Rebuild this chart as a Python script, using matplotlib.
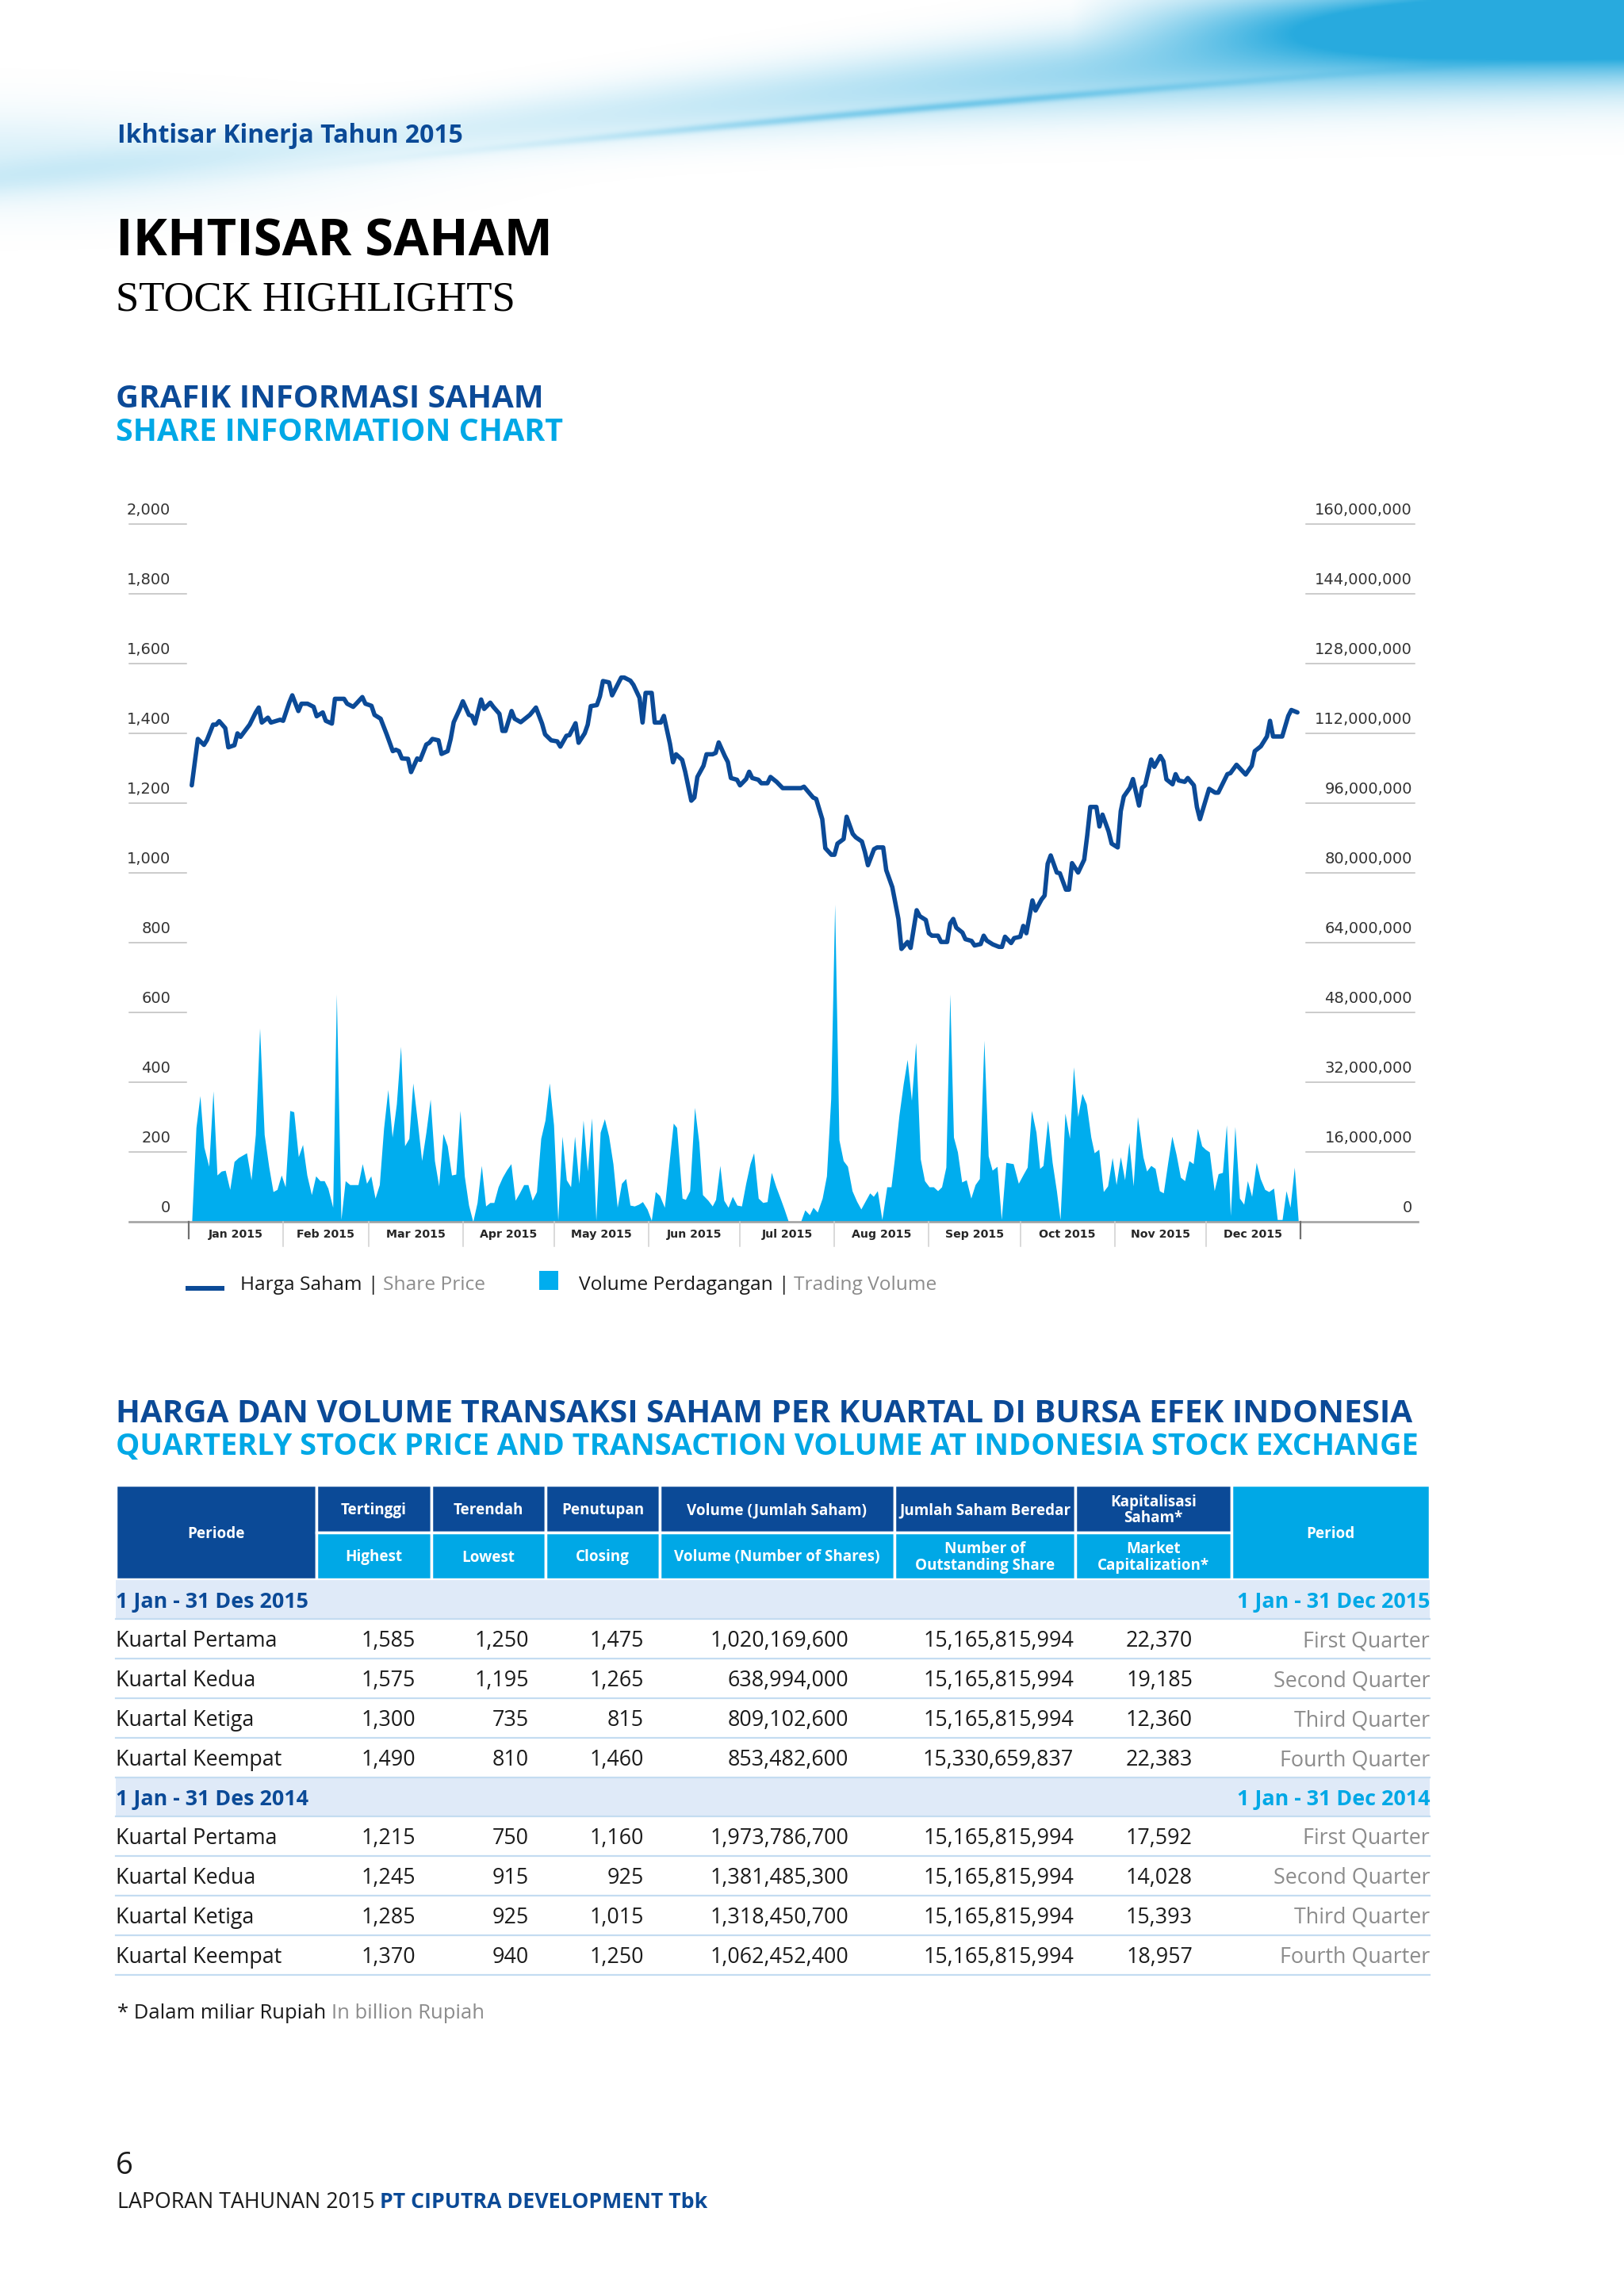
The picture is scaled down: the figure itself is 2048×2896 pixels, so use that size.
import numpy as np
import pandas as pd
import matplotlib
matplotlib.use('Agg')
import matplotlib.pyplot as plt
from matplotlib import font_manager
from matplotlib.patches import Rectangle

# ---- share price (Rp), day of year 2015 ----
price_day = [1, 3, 5, 6, 8, 9, 10, 12, 13, 15,
             16, 17, 20, 22, 23, 24, 26, 27, 30, 31,
             33, 34, 36, 37, 39, 41, 42, 44, 45, 47,
             48, 51, 52, 54, 55, 57, 58, 60, 61, 63,
             65, 67, 68, 69, 70, 72, 73, 75, 76, 78,
             79, 80, 82, 83, 85, 86, 87, 89, 90, 92,
             93, 94, 96, 97, 99, 100, 102, 103, 104, 106,
             107, 109, 111, 112, 114, 116, 117, 119, 121, 122,
             124, 125, 127, 128, 130, 131, 132, 134, 135, 136,
             138, 139, 142, 143, 145, 146, 148, 149, 150, 152,
             153, 155, 156, 158, 159, 160, 162, 163, 165, 166,
             167, 169, 170, 172, 173, 174, 176, 177, 178, 180,
             181, 183, 184, 185, 187, 188, 190, 191, 193, 195,
             201, 202, 205, 206, 208, 209, 211, 212, 213, 215,
             216, 218, 219, 221, 222, 223, 225, 226, 228, 229,
             231, 233, 234, 236, 237, 239, 240, 242, 243, 244,
             246, 247, 249, 250, 251, 252, 254, 255, 257, 258,
             260, 261, 262, 264, 266, 267, 268, 270, 271, 273,
             274, 275, 277, 278, 280, 281, 282, 283, 285, 286,
             288, 289, 290, 292, 294, 295, 296, 298, 299, 300,
             302, 303, 305, 306, 307, 309, 310, 312, 313, 314,
             316, 317, 319, 320, 321, 323, 324, 325, 327, 328,
             330, 331, 332, 335, 337, 338, 341, 342, 344, 347,
             349, 350, 352, 354, 355, 356, 359, 361, 362, 364]
price = [1251, 1384, 1367, 1381, 1425, 1425, 1435, 1415, 1360, 1366,
         1400, 1390, 1425, 1460, 1474, 1431, 1445, 1431, 1439, 1436,
         1488, 1509, 1464, 1485, 1485, 1476, 1449, 1460, 1436, 1428,
         1499, 1499, 1485, 1476, 1485, 1504, 1485, 1479, 1453, 1442,
         1397, 1349, 1353, 1349, 1328, 1327, 1289, 1328, 1324, 1368,
         1373, 1384, 1380, 1341, 1349, 1384, 1432, 1470, 1492, 1453,
         1450, 1428, 1497, 1470, 1488, 1476, 1456, 1407, 1407, 1464,
         1442, 1432, 1446, 1453, 1474, 1428, 1397, 1380, 1377, 1362,
         1393, 1395, 1429, 1373, 1400, 1425, 1478, 1481, 1506, 1550,
         1546, 1509, 1560, 1560, 1551, 1539, 1502, 1431, 1516, 1516,
         1431, 1431, 1450, 1370, 1317, 1340, 1324, 1290, 1207, 1216,
         1275, 1307, 1340, 1340, 1344, 1374, 1335, 1318, 1272, 1267,
         1251, 1269, 1290, 1272, 1267, 1257, 1257, 1275, 1261, 1243,
         1243, 1247, 1216, 1212, 1154, 1071, 1052, 1052, 1084, 1097,
         1161, 1112, 1102, 1090, 1060, 1022, 1068, 1073, 1073, 1008,
         959, 868, 782, 802, 785, 893, 876, 865, 827, 820,
         820, 802, 802, 855, 868, 843, 829, 810, 805, 792,
         796, 820, 806, 795, 788, 788, 817, 799, 813, 817,
         848, 827, 921, 892, 924, 935, 1026, 1050, 1001, 999,
         952, 952, 1028, 1001, 1038, 1108, 1189, 1189, 1133, 1167,
         1119, 1084, 1073, 1177, 1219, 1244, 1269, 1193, 1244, 1251,
         1325, 1304, 1335, 1320, 1268, 1254, 1283, 1265, 1261, 1272,
         1251, 1189, 1154, 1241, 1230, 1230, 1283, 1286, 1310, 1282,
         1307, 1349, 1363, 1391, 1436, 1391, 1391, 1450, 1467, 1460]

# ---- trading volume (million shares) ----
vol_day = [1.0, 2.4, 3.7, 5.0, 6.6, 8.0, 9.3, 10.7, 12.0, 13.5,
           14.9, 16.3, 19.0, 20.5, 21.9, 23.3, 24.8, 26.3, 27.7, 29.0,
           30.4, 31.7, 33.2, 34.5, 36.0, 37.4, 38.8, 40.3, 41.7, 43.1,
           44.5, 45.7, 47.3, 48.5, 50.0, 51.4, 52.9, 55.6, 57.0, 58.4,
           59.8, 61.2, 62.6, 64.0, 65.4, 66.8, 68.2, 69.6, 70.9, 72.3,
           73.6, 75.1, 76.5, 77.9, 79.3, 80.7, 82.1, 83.5, 84.9, 86.3,
           87.7, 89.1, 90.5, 91.9, 93.3, 94.7, 96.1, 97.5, 98.9, 100.2,
           101.6, 103.0, 104.4, 105.8, 107.2, 108.6, 110.0, 111.4, 112.8, 114.2,
           115.6, 117.0, 118.4, 119.8, 121.2, 122.6, 124.0, 125.4, 126.7, 128.1,
           129.5, 130.9, 132.3, 133.7, 135.1, 136.5, 137.9, 139.3, 140.7, 142.1,
           143.5, 144.9, 146.3, 147.7, 149.0, 150.5, 151.9, 153.2, 154.6, 156.2,
           157.6, 159.1, 160.2, 162.0, 163.1, 164.5, 166.1, 167.5, 168.7, 170.5,
           171.9, 173.0, 174.4, 175.7, 177.1, 178.5, 180.0, 181.5, 182.9, 184.3,
           185.5, 187.0, 188.5, 189.9, 191.3, 192.8, 194.2, 195.5, 196.9, 200.9,
           202.3, 203.8, 205.0, 206.4, 208.0, 209.4, 210.8, 212.1, 213.5, 214.9,
           216.3, 217.8, 219.3, 220.7, 222.1, 223.6, 224.8, 226.1, 227.6, 229.2,
           230.6, 231.7, 233.2, 234.6, 235.9, 237.3, 238.7, 240.2, 241.6, 243.1,
           244.5, 245.9, 247.2, 248.6, 249.9, 251.1, 252.4, 253.8, 255.3, 256.8,
           258.2, 259.6, 261.1, 262.5, 263.8, 265.4, 266.8, 268.3, 270.7, 272.4,
           274.1, 275.3, 276.7, 278.2, 279.4, 280.5, 282.0, 283.5, 284.9, 286.1,
           287.7, 289.2, 290.5, 291.9, 293.3, 294.7, 296.2, 297.3, 298.8, 300.3,
           301.7, 303.2, 304.5, 305.9, 307.3, 308.7, 310.1, 311.5, 313.3, 314.5,
           315.9, 317.3, 318.7, 320.0, 321.5, 322.8, 324.2, 325.6, 327.0, 328.4,
           329.8, 331.2, 332.6, 333.8, 335.1, 336.7, 338.0, 339.4, 340.7, 342.0,
           343.5, 345.0, 346.4, 347.6, 349.0, 350.5, 351.8, 353.3, 354.6, 356.2,
           357.4, 359.0, 360.3, 361.6, 363.0, 364.3]
vol_m = [0, 21.6, 28.9, 17.1, 12.7, 30.0, 10.7, 11.6, 11.8, 7.4,
         13.8, 14.7, 15.8, 9.6, 20.0, 44.4, 20.0, 12.6, 6.9, 7.4,
         10.7, 8.0, 25.5, 25.2, 14.9, 17.7, 10.7, 6.2, 10.5, 9.4,
         9.4, 7.7, 3.3, 52.2, 0.5, 9.4, 8.5, 8.5, 13.3, 8.8,
         10.5, 5.4, 8.5, 21.4, 30.3, 19.4, 27.0, 40.2, 17.4, 19.1,
         31.8, 22.9, 14.0, 20.5, 28.1, 14.0, 8.2, 20.2, 17.4, 10.7,
         10.9, 25.5, 10.5, 3.8, 0, 4.4, 12.9, 3.6, 4.4, 4.4,
         8.0, 10.2, 11.9, 13.3, 4.9, 6.6, 8.5, 8.5, 4.9, 6.9,
         19.1, 23.3, 31.8, 22.2, 0.3, 19.6, 9.6, 8.0, 19.6, 8.8,
         23.3, 11.6, 23.8, 0.3, 20.5, 23.6, 19.6, 13.3, 3.3, 8.8,
         9.9, 3.8, 3.6, 4.0, 4.6, 2.9, 0.3, 6.9, 6.0, 3.3,
         12.7, 22.6, 21.6, 5.4, 5.1, 7.1, 26.2, 18.2, 6.2, 4.9,
         3.6, 5.1, 12.9, 4.9, 3.3, 5.8, 3.8, 3.6, 8.8, 13.3,
         15.8, 5.4, 4.4, 4.6, 11.3, 8.0, 5.4, 2.9, 0, 0,
         2.7, 1.6, 3.3, 2.2, 5.4, 10.5, 28.2, 72.8, 18.8, 14.0,
         12.7, 7.1, 4.7, 2.9, 4.7, 6.6, 5.8, 7.1, 0.5, 8.0,
         8.0, 14.4, 24.4, 31.6, 37.2, 27.8, 41.1, 14.4, 9.4, 8.0,
         8.0, 7.1, 8.0, 12.5, 52.2, 19.4, 16.0, 9.1, 9.6, 5.4,
         8.5, 9.9, 41.6, 15.1, 11.8, 12.7, 0.5, 13.6, 13.3, 8.8,
         11.0, 12.5, 25.5, 20.5, 12.2, 12.9, 23.3, 13.6, 7.1, 0.5,
         24.9, 19.1, 35.5, 24.1, 29.4, 27.0, 19.4, 15.8, 16.6, 6.9,
         8.2, 14.7, 8.5, 14.9, 9.6, 18.2, 8.2, 24.1, 14.9, 11.6,
         12.9, 12.2, 7.1, 6.6, 13.8, 19.6, 15.4, 10.2, 9.4, 14.0,
         13.3, 21.4, 17.4, 16.6, 16.0, 7.1, 11.0, 11.3, 22.2, 1.4,
         21.8, 5.4, 4.0, 9.4, 5.8, 13.6, 9.9, 7.4, 6.9, 7.7,
         0.5, 0.5, 7.1, 3.3, 12.5, 0]

# ---- quarterly table ----
periods_id = ['1 Jan - 31 Des 2015', '1 Jan - 31 Des 2014']
periods_en = ['1 Jan - 31 Dec 2015', '1 Jan - 31 Dec 2014']
quarters_id = ['Kuartal Pertama', 'Kuartal Kedua', 'Kuartal Ketiga', 'Kuartal Keempat']
quarters_en = ['First Quarter', 'Second Quarter', 'Third Quarter', 'Fourth Quarter']
highest = [[1585, 1575, 1300, 1490], [1215, 1245, 1285, 1370]]
lowest = [[1250, 1195, 735, 810], [750, 915, 925, 940]]
closing = [[1475, 1265, 815, 1460], [1160, 925, 1015, 1250]]
volume = [[1020169600, 638994000, 809102600, 853482600],
          [1973786700, 1381485300, 1318450700, 1062452400]]
outstanding = [[15165815994, 15165815994, 15165815994, 15330659837],
               [15165815994, 15165815994, 15165815994, 15165815994]]
market_cap = [[22370, 19185, 12360, 22383], [17592, 14028, 15393, 18957]]
head_id = ['Tertinggi', 'Terendah', 'Penutupan', 'Volume (Jumlah Saham)',
           'Jumlah Saham Beredar', 'Kapitalisasi\nSaham*']
head_en = ['Highest', 'Lowest', 'Closing', 'Volume (Number of Shares)',
           'Number of\nOutstanding Share', 'Market\nCapitalization*']

DARK = '#0b4a97'
CYAN = '#00a8e6'
VOLC = '#00adee'
GRAY = '#8c8c8c'
INK = '#1a1a1a'
BAND = '#dfeaf8'
RULE = '#c4dcf1'

names = {f.name for f in font_manager.fontManager.ttflist}
cond = 'Liberation Sans Narrow' if 'Liberation Sans Narrow' in names else 'Open Sans'
serif = 'Liberation Serif' if 'Liberation Serif' in names else 'DejaVu Serif'

fig = plt.figure(figsize=(20.48, 28.96), dpi=100)
page = fig.add_axes([0, 0, 1, 1])
page.axis('off')
r = fig.canvas.get_renderer()


def size_for(s, width, **kw):
    t = page.text(0, 0, s, fontsize=20, **kw)
    w = t.get_window_extent(renderer=r).width
    t.remove()
    return 20 * width / w


def put(x, y, s, width, **kw):
    return page.text(x, y + 4, s, fontsize=size_for(s, width, **kw), va='center', **kw)


def chain(x, y, parts, size, family=cond):
    gap = size * 100 / 72 * 0.26
    for s, c, w in parts:
        t = page.text(x, y, s, fontsize=size, color=c, fontweight=w,
                      family=family, va='center')
        x += t.get_window_extent(renderer=r).width + gap


# header swoosh (decoration)
H = 360
yy, xx = np.mgrid[0:H:2, 0:2048:2].astype(float)
t = xx / 2048
yc = 225 - 0.115 * xx + 0.000012 * xx ** 2
a = (0.10 + 0.75 * t ** 2) * np.exp(-((yy - yc) / (22 + 45 * t)) ** 2)
a += 0.35 * np.exp(-((yy - (yc + 28)) / 5) ** 2) * np.exp(-((xx - 1150) / 420) ** 2)
a += 0.85 * np.exp(-((yy - 25) / 45) ** 2) * np.clip((xx - 1350) / 450, 0, 1)
a += 0.15 * np.exp(-((yy - 200) / 60) ** 2) * np.exp(-(xx / 380) ** 2)
img = np.zeros(yy.shape + (4,))
img[..., 0], img[..., 1], img[..., 2] = 0.08, 0.64, 0.86
img[..., 3] = np.clip(a, 0, 0.92)
page.imshow(img, extent=(0, 2048, H, 0), aspect='auto', zorder=0, interpolation='bilinear')
page.set_xlim(0, 2048)
page.set_ylim(2896, 0)

# page titles
put(148, 168, 'Ikhtisar Kinerja Tahun 2015', 436, family=cond, fontweight='bold', color=DARK)
put(146, 302, 'IKHTISAR SAHAM', 550, family=cond, fontweight='bold', color='black')
put(146, 374, 'STOCK HIGHLIGHTS', 504, family=serif, color='black')
put(146, 500, 'GRAFIK INFORMASI SAHAM', 539, family=cond, fontweight='bold', color=DARK)
put(146, 541, 'SHARE INFORMATION CHART', 565, family=cond, fontweight='bold', color=CYAN)

# ---- chart ----
ax = fig.add_axes([238 / 2048, 1355 / 2896, 1402 / 2048, 880 / 2896])
ax2 = ax.twinx()
start = pd.Timestamp('2015-01-01')
px = start + pd.to_timedelta(price_day, unit='D')
vx = start + pd.to_timedelta(vol_day, unit='D')
ax2.fill_between(vx, np.array(vol_m) * 1e6, 0, color=VOLC, lw=0)
ax.plot(px, price, color=DARK, lw=4.0, solid_joinstyle='round', solid_capstyle='round')
ax.set_zorder(ax2.get_zorder() + 1)
ax.patch.set_visible(False)
ax.set_xlim(start, pd.Timestamp('2016-01-01'))
ax.set_ylim(0, 2000)
ax2.set_ylim(0, 160e6)
for a_ in (ax, ax2):
    a_.set_xticks([])
    a_.set_yticks([])
    for s in a_.spines.values():
        s.set_visible(False)

tick_fs = size_for('2,000', 56, family='DejaVu Sans')
trl = ax.get_yaxis_transform()
for v in np.arange(0, 2001, 200):
    if v > 0:
        ax.plot([-0.0535, -0.002], [v, v], transform=trl, color='#bdbdbd', lw=1.1, clip_on=False)
    ax.text(-0.0164, v + 39, f'{v:,}', transform=trl, ha='right', va='center',
            fontsize=tick_fs, color='#333333', family='DejaVu Sans')
trr = ax2.get_yaxis_transform()
for v in np.arange(0, 160e6 + 1, 16e6):
    if v > 0:
        ax2.plot([1.005, 1.1027], [v, v], transform=trr, color='#bdbdbd', lw=1.1, clip_on=False)
    ax2.text(1.1006, v + 39 * 80000, f'{int(v):,}', transform=trr, ha='right', va='center',
             fontsize=tick_fs, color='#333333', family='DejaVu Sans')

ax.plot([-0.0535, 1.1056], [0, 0], transform=ax.transAxes, color='#a3a3a3', lw=1.9, clip_on=False)
months = pd.date_range('2015-01-01', '2016-01-01', freq='MS')
trx = ax.get_xaxis_transform()
for i, d in enumerate(months):
    end = i in (0, len(months) - 1)
    ax.plot([d, d], [0, -0.024 if end else -0.035], transform=trx, clip_on=False,
            color='#707070' if end else '#d0d0d0', lw=1.6 if end else 1.1)
mon_fs = size_for('Jan 2015', 69, family='DejaVu Sans', fontweight='bold')
for d0, d1 in zip(months[:-1], months[1:]):
    ax.text(d0 + (d1 - d0) / 2, -0.018, d0.strftime('%b %Y'), transform=trx, ha='center',
            va='center', fontsize=mon_fs, fontweight='bold', color='#262626', family='DejaVu Sans')

# legend
page.plot([234, 283], [1625, 1625], color=DARK, lw=4.3, solid_capstyle='butt')
page.add_patch(Rectangle((680, 1603), 24, 24, fc=VOLC, lw=0))
leg_fs = size_for('Harga Saham | Share Price', 307, family=cond)
chain(303, 1621, [('Harga Saham', INK, 'normal'), ('|', INK, 'normal'),
                  ('Share Price', GRAY, 'normal')], leg_fs)
chain(730, 1621, [('Volume Perdagangan', INK, 'normal'), ('|', INK, 'normal'),
                  ('Trading Volume', GRAY, 'normal')], leg_fs)

# ---- table ----
put(146, 1779, 'HARGA DAN VOLUME TRANSAKSI SAHAM PER KUARTAL DI BURSA EFEK INDONESIA', 1634,
    family=cond, fontweight='bold', color=DARK)
put(146, 1821, 'QUARTERLY STOCK PRICE AND TRANSACTION VOLUME AT INDONESIA STOCK EXCHANGE', 1645,
    family=cond, fontweight='bold', color=CYAN)

cols = [146, 399, 544, 688, 832, 1128, 1356, 1553, 1803]
top, mid, bot = 1873, 1933, 1992
head_fs = size_for('Volume (Jumlah Saham)', 226, family=cond, fontweight='bold')
hk = dict(ha='center', va='center', color='white', fontweight='bold', family=cond,
          fontsize=head_fs, linespacing=1.05)
page.add_patch(Rectangle((cols[0], top), cols[1] - cols[0], bot - top, fc=DARK, ec='white', lw=2.5))
page.text((cols[0] + cols[1]) / 2, (top + bot) / 2 + 2, 'Periode', **hk)
for i in range(1, 7):
    w = cols[i + 1] - cols[i]
    page.add_patch(Rectangle((cols[i], top), w, mid - top, fc=DARK, ec='white', lw=2.5))
    page.add_patch(Rectangle((cols[i], mid), w, bot - mid, fc=CYAN, ec='white', lw=2.5))
    page.text(cols[i] + w / 2, (top + mid) / 2 + 2, head_id[i - 1], **hk)
    page.text(cols[i] + w / 2, (mid + bot) / 2 + 2, head_en[i - 1], **hk)
page.add_patch(Rectangle((cols[7], top), cols[8] - cols[7], bot - top, fc=CYAN, ec='white', lw=2.5))
page.text((cols[7] + cols[8]) / 2, (top + bot) / 2 + 2, 'Period', **hk)

body_fs = size_for('1,020,169,600', 175, family=cond)
band_fs = size_for(periods_id[0], 243, family=cond, fontweight='bold')
right = [524, 667, 812, 1070, 1354, 1504]
y = bot + 1
for k in range(2):
    page.add_patch(Rectangle((146, y), 1657, 49, fc=BAND, lw=0))
    page.text(146, y + 28, periods_id[k], fontsize=band_fs, fontweight='bold', color=DARK,
              family=cond, va='center')
    page.text(1803, y + 28, periods_en[k], fontsize=band_fs, fontweight='bold', color=CYAN,
              family=cond, va='center', ha='right')
    y += 49
    page.plot([146, 1803], [y, y], color=RULE, lw=1.6)
    for q in range(4):
        yc_ = y + 28
        page.text(146, yc_, quarters_id[q], fontsize=body_fs, color=INK, family=cond, va='center')
        vals = [highest[k][q], lowest[k][q], closing[k][q], volume[k][q],
                outstanding[k][q], market_cap[k][q]]
        for xr, v in zip(right, vals):
            page.text(xr, yc_, f'{v:,}', fontsize=body_fs, color=INK, family=cond,
                      va='center', ha='right')
        page.text(1803, yc_, quarters_en[q], fontsize=body_fs, color=GRAY, family=cond,
                  va='center', ha='right')
        y += 50
        page.plot([146, 1803], [y, y], color=RULE, lw=1.6)

# footnote & footer
foot_fs = size_for('* Dalam miliar Rupiah In billion Rupiah', 462, family=cond)
chain(148, 2539, [('* Dalam miliar Rupiah', INK, 'normal'), ('In billion Rupiah', GRAY, 'normal')], foot_fs)
page.text(146, 2732, '6', fontsize=size_for('6', 22, family=cond), color=INK, family=cond, va='center')
lap_fs = size_for('LAPORAN TAHUNAN 2015 PT CIPUTRA DEVELOPMENT Tbk', 727, family=cond)
chain(148, 2778, [('LAPORAN TAHUNAN 2015', INK, 'normal'),
                  ('PT CIPUTRA DEVELOPMENT Tbk', DARK, 'bold')], lap_fs)

fig.savefig('out.png', dpi=100, facecolor='white')
